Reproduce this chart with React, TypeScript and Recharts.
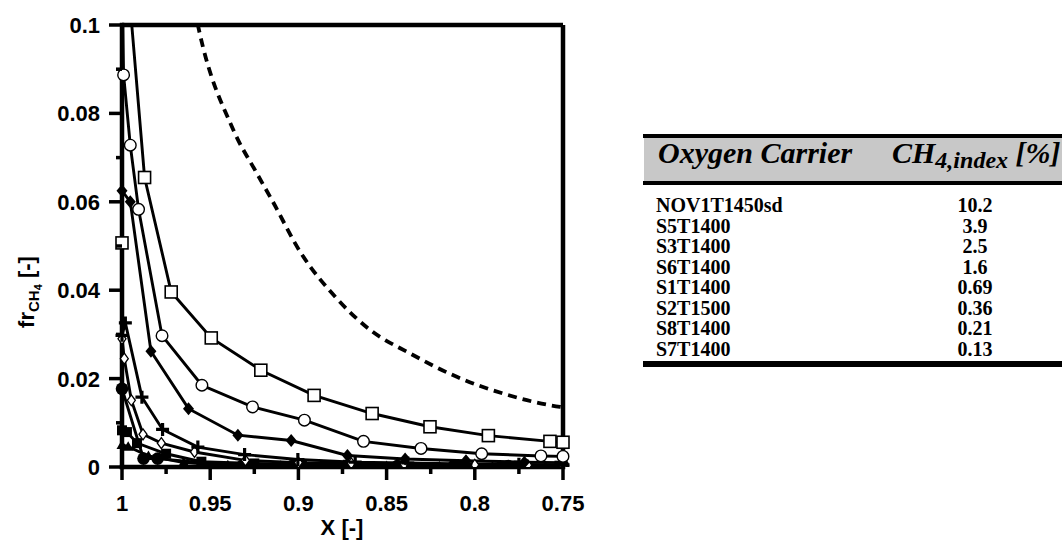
import React from 'react'
import { LineChart, Line, XAxis, YAxis, ReferenceLine, Label } from 'recharts'

// [X, fr_CH4] pairs
const nov1t1450sd: [number, number][] = [
  [1.0, 0.0507], [0.9993, 0.123], [0.9872, 0.0655], [0.9721, 0.0396], [0.9494, 0.0292],
  [0.9213, 0.0219], [0.8911, 0.0162], [0.8582, 0.0121], [0.8254, 0.0091], [0.7923, 0.0071],
  [0.7574, 0.0058], [0.75, 0.0056]
]
const s5t1400: [number, number][] = [
  [1.0, 0.105], [0.9991, 0.0887], [0.9953, 0.0728], [0.9906, 0.0583], [0.9773, 0.0297],
  [0.9547, 0.0185], [0.926, 0.0136], [0.8966, 0.0106], [0.8631, 0.0058], [0.8305, 0.0042],
  [0.7961, 0.003], [0.7625, 0.0025], [0.75, 0.0024]
]
const s3t1400: [number, number][] = [
  [1.0, 0.0625], [0.9953, 0.06], [0.9836, 0.0262], [0.9623, 0.0132], [0.9343, 0.0072],
  [0.9041, 0.006], [0.8722, 0.0026], [0.8395, 0.0018], [0.805, 0.0014], [0.7719, 0.0011],
  [0.75, 0.001]
]
const s6t1400: [number, number][] = [
  [1.0, 0.0298], [0.9981, 0.0326], [0.9887, 0.0158], [0.977, 0.0085], [0.957, 0.0045],
  [0.9305, 0.0028], [0.9003, 0.0017], [0.8678, 0.0011], [0.838, 0.0009], [0.805, 0.0007],
  [0.775, 0.0006], [0.75, 0.0005]
]
const s1t1400: [number, number][] = [
  [1.0, 0.029], [0.9987, 0.0245], [0.9947, 0.0151], [0.9881, 0.0074], [0.9777, 0.0054],
  [0.9589, 0.0034], [0.93, 0.0015], [0.9, 0.001], [0.87, 0.0008], [0.84, 0.0006],
  [0.8, 0.0005], [0.77, 0.0004], [0.75, 0.0004]
]
const s2t1500: [number, number][] = [
  [1.0, 0.0177], [0.9878, 0.0019], [0.9798, 0.0019], [0.932, 0.0002], [0.9037, 0.0002],
  [0.844, 0.0002], [0.812, 0.0002], [0.781, 0.0002], [0.75, 0.0002]
]
const s8t1400: [number, number][] = [
  [1.0, 0.0083], [0.9972, 0.0079], [0.9915, 0.0054], [0.975, 0.003], [0.955, 0.0012],
  [0.925, 0.0008], [0.898, 0.0006], [0.872, 0.0005], [0.842, 0.0004], [0.808, 0.0003],
  [0.775, 0.0003], [0.752, 0.0003]
]
const s7t1400: [number, number][] = [
  [1.0, 0.005], [0.9965, 0.0046], [0.985, 0.0025], [0.965, 0.001], [0.94, 0.0004],
  [0.91, 0.0003], [0.88, 0.0002], [0.85, 0.0002], [0.82, 0.0001], [0.79, 0.0001], [0.76, 0.0001]
]
// dashed reference curve
const dashedCurve: [number, number][] = [
  [0.9605, 0.107], [0.9566, 0.0993], [0.9368, 0.0762], [0.9235, 0.0664], [0.915, 0.0604],
  [0.899, 0.0487], [0.8782, 0.0381], [0.8593, 0.031], [0.8367, 0.0257], [0.8102, 0.0204],
  [0.7838, 0.0166], [0.7517, 0.0136], [0.75, 0.0135]
]

const xTicks = [1, 0.975, 0.95, 0.925, 0.9, 0.875, 0.85, 0.825, 0.8, 0.775, 0.75]
const yTicks = [0, 0.01, 0.02, 0.03, 0.04, 0.05, 0.06, 0.07, 0.08, 0.09, 0.1]

const carriers = ['NOV1T1450sd', 'S5T1400', 'S3T1400', 'S6T1400', 'S1T1400', 'S2T1500', 'S8T1400', 'S7T1400']
const ch4Index = ['10.2', '3.9', '2.5', '1.6', '0.69', '0.36', '0.21', '0.13']

const toPoints = (pairs: [number, number][]) => pairs.map(([x, y]) => ({ x, y }))

const SANS = '"Liberation Sans", Arial, sans-serif'
const SERIF = '"Liberation Serif", "Times New Roman", serif'

const OpenSquare = (p: any) => (
  <rect key={p.index} x={p.cx - 6} y={p.cy - 6} width={12} height={12} fill='#fff' stroke='#000' strokeWidth={1.6} />
)
const OpenCircle = (p: any) => (
  <circle key={p.index} cx={p.cx} cy={p.cy} r={5.8} fill='#fff' stroke='#000' strokeWidth={1.4} />
)
const FilledDiamond = (p: any) => (
  <path key={p.index} d={`M${p.cx},${p.cy - 6.5}L${p.cx + 5.5},${p.cy}L${p.cx},${p.cy + 6.5}L${p.cx - 5.5},${p.cy}Z`} fill='#000' />
)
const Plus = (p: any) => (
  <path key={p.index} d={`M${p.cx - 6.5},${p.cy}H${p.cx + 6.5}M${p.cx},${p.cy - 6.5}V${p.cy + 6.5}`} stroke='#000' strokeWidth={3.2} />
)
const OpenDiamond = (p: any) => (
  <path key={p.index} d={`M${p.cx},${p.cy - 5.5}L${p.cx + 4},${p.cy}L${p.cx},${p.cy + 5.5}L${p.cx - 4},${p.cy}Z`} fill='#fff' stroke='#000' strokeWidth={1.3} />
)
const FilledCircle = (p: any) => <circle key={p.index} cx={p.cx} cy={p.cy} r={6.3} fill='#000' />
const FilledSquare = (p: any) => (
  <rect key={p.index} x={p.cx - 5} y={p.cy - 5} width={10} height={10} fill='#000' />
)
const FilledTriangle = (p: any) => (
  <path key={p.index} d={`M${p.cx},${p.cy - 5.5}L${p.cx + 5.5},${p.cy + 4}L${p.cx - 5.5},${p.cy + 4}Z`} fill='#000' />
)

const YTick = (props: any) => {
  const { x, y, payload } = props
  const v = payload.value
  const major = Math.round(v * 100) % 2 === 0
  return (
    <g>
      <line x1={x - (major ? 13 : 6)} x2={x} y1={y} y2={y} stroke='#000' strokeWidth={3.5} />
      {major && (
        <text x={x - 22} y={y} dy='0.36em' textAnchor='end' fontFamily={SANS} fontWeight='bold' fontSize={22} fill='#000'>
          {v === 0 ? '0' : String(+v.toFixed(2))}
        </text>
      )}
    </g>
  )
}

const XTick = (props: any) => {
  const { x, y, payload } = props
  const v = payload.value
  const major = Math.round(v * 1000) % 50 === 0
  return (
    <g>
      <line x1={x} x2={x} y1={y} y2={y + (major ? 13 : 7)} stroke='#000' strokeWidth={3.5} />
      {major && (
        <text x={x} y={y + 44} textAnchor='middle' fontFamily={SANS} fontWeight='bold' fontSize={22} fill='#000'>
          {String(+v.toFixed(3))}
        </text>
      )}
    </g>
  )
}

const series = [
  { name: 'S7T1400', pts: s7t1400, dot: FilledTriangle },
  { name: 'S8T1400', pts: s8t1400, dot: FilledSquare },
  { name: 'S2T1500', pts: s2t1500, dot: FilledCircle },
  { name: 'S1T1400', pts: s1t1400, dot: OpenDiamond },
  { name: 'S6T1400', pts: s6t1400, dot: Plus },
  { name: 'S3T1400', pts: s3t1400, dot: FilledDiamond },
  { name: 'S5T1400', pts: s5t1400, dot: OpenCircle },
  { name: 'NOV1T1450sd', pts: nov1t1450sd, dot: OpenSquare }
]

const CarrierTable = () => {
  const rowY = (i: number) => 212 + i * 20.5
  return (
    <svg width={432} height={542} style={{ position: 'absolute', left: 630, top: 0 }}>
      <g transform='translate(-630 0)'>
        <rect x={643} y={134} width={420} height={4} fill='#000' />
        <rect x={644} y={138} width={420} height={43} fill='#c8c8c8' />
        <rect x={643} y={181} width={420} height={4} fill='#000' />
        <text x={658} y={163} fontFamily={SERIF} fontWeight='bold' fontStyle='italic' fontSize={30} fill='#000'>
          Oxygen Carrier
        </text>
        <text x={892} y={163} fontFamily={SERIF} fontWeight='bold' fontStyle='italic' fontSize={30} fill='#000'>
          CH<tspan fontSize={24} dy={5}>4,index</tspan>
          <tspan dy={-5}> [%]</tspan>
        </text>
        {carriers.map((c, i) => (
          <text key={c} x={656} y={rowY(i)} fontFamily={SERIF} fontWeight='bold' fontSize={20} fill='#000'>
            {c}
          </text>
        ))}
        {ch4Index.map((v, i) => (
          <text key={i} x={975} y={rowY(i)} textAnchor='middle' fontFamily={SERIF} fontWeight='bold' fontSize={20} fill='#000'>
            {v}
          </text>
        ))}
        <rect x={643} y={361} width={420} height={6} fill='#000' />
      </g>
    </svg>
  )
}

export default function App() {
  return (
    <div style={{ position: 'absolute', left: 0, top: 0, width: 1062, height: 542, background: '#fff' }}>
      <LineChart width={620} height={542} margin={{ top: 25, right: 57, bottom: 0, left: 0 }}>
        <XAxis
          type='number'
          dataKey='x'
          domain={[0.75, 1]}
          reversed
          ticks={xTicks}
          interval={0}
          height={75}
          tickSize={0}
          tickMargin={0}
          tickLine={false}
          tick={<XTick />}
          axisLine={{ stroke: '#000', strokeWidth: 4.5, strokeLinecap: 'square' }}
        >
          <Label
            content={() => (
              <text x={342} y={535} textAnchor='middle' fontFamily={SANS} fontWeight='bold' fontSize={22} fill='#000'>
                X [-]
              </text>
            )}
          />
        </XAxis>
        <YAxis
          type='number'
          dataKey='y'
          domain={[0, 0.1]}
          allowDataOverflow
          ticks={yTicks}
          interval={0}
          width={122}
          tickSize={0}
          tickMargin={0}
          tickLine={false}
          tick={<YTick />}
          axisLine={{ stroke: '#000', strokeWidth: 4.5, strokeLinecap: 'square' }}
        >
          <Label
            content={() => (
              <text transform='translate(34 292) rotate(-90)' textAnchor='middle' fontFamily={SANS} fontWeight='bold' fontSize={22} fill='#000'>
                fr<tspan fontSize={15} dy={5}>CH</tspan>
                <tspan fontSize={11} dy={3}>4</tspan>
                <tspan fontSize={22} dy={-8}> [-]</tspan>
              </text>
            )}
          />
        </YAxis>
        <ReferenceLine y={0.1} stroke='#000' strokeWidth={4.5} />
        <ReferenceLine x={0.75} stroke='#000' strokeWidth={4.5} />
        <Line
          data={toPoints(dashedCurve)}
          dataKey='y'
          type='monotone'
          stroke='#000'
          strokeWidth={3.8}
          strokeDasharray='9 6'
          dot={false}
          isAnimationActive={false}
        />
        {series.map((s) => (
          <Line
            key={s.name}
            name={s.name}
            data={toPoints(s.pts)}
            dataKey='y'
            type='linear'
            stroke='#000'
            strokeWidth={2.9}
            dot={s.dot}
            isAnimationActive={false}
          />
        ))}
      </LineChart>
      <CarrierTable />
    </div>
  )
}
